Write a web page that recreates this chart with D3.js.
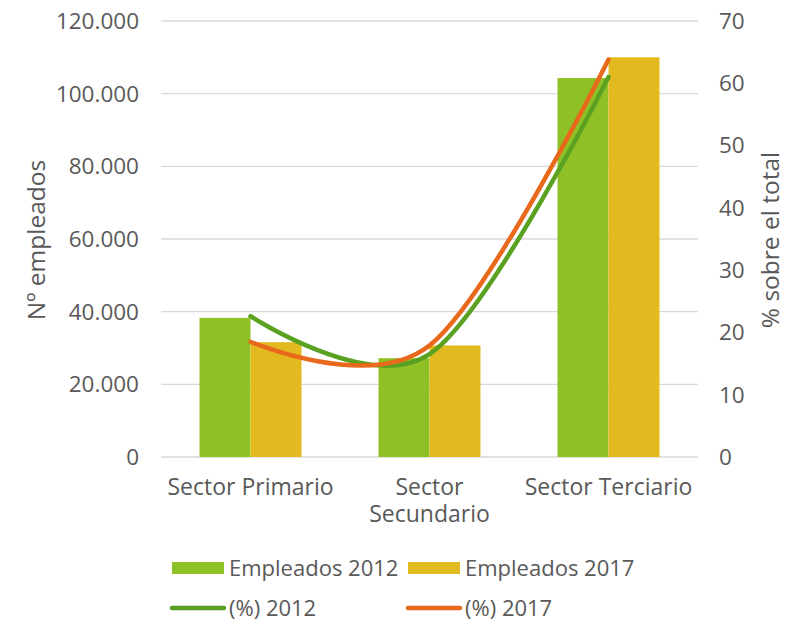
<!DOCTYPE html>
<html>
<head>
<meta charset="utf-8">
<script src="https://cdn.jsdelivr.net/npm/d3@7"></script>
<style>
  body { margin: 0; background: #fff; }
  text { font-family: "Open Sans", sans-serif; fill: #595959; }
</style>
</head>
<body>
<div id="chart"></div>
<script>
// data
var sectors = ["Sector Primario", "Sector Secundario", "Sector Terciario"]
var sectorLines = [["Sector Primario"], ["Sector", "Secundario"], ["Sector Terciario"]]
var empleados2012 = [38300, 27200, 104300]
var empleados2017 = [31600, 30700, 110000]
var pct2012 = [22.6, 16.5, 61.0]
var pct2017 = [18.5, 17.9, 63.8]
var leftTicks = [0, 20000, 40000, 60000, 80000, 100000, 120000]
var rightTicks = [0, 10, 20, 30, 40, 50, 60, 70]

var width = 787, height = 623
var margin = {top: 21, right: 89, bottom: 166, left: 161}

var svg = d3.select("#chart").append("svg")
    .attr("width", width)
    .attr("height", height)

var x = d3.scaleBand().domain(sectors)
    .range([margin.left, width - margin.right])
    .paddingInner(0).paddingOuter(0)

var y = d3.scaleLinear().domain([0, 120000]).range([height - margin.bottom, margin.top])
var y2 = d3.scaleLinear().domain([0, 70]).range([height - margin.bottom, margin.top])

var fmt = function(v) { return v == 0 ? "0" : d3.format(",")(v).replace(/,/g, ".") }

// gridlines
svg.append("g").selectAll("line")
    .data(leftTicks)
    .enter().append("line")
    .attr("x1", margin.left)
    .attr("x2", width - margin.right)
    .attr("y1", d => y(d))
    .attr("y2", d => y(d))
    .style("stroke", "#d9d9d9")
    .style("stroke-width", 1.3)

// left axis labels
svg.append("g").selectAll("text")
    .data(leftTicks)
    .enter().append("text")
    .attr("x", 139)
    .attr("y", d => y(d))
    .attr("dy", "0.35em")
    .attr("text-anchor", "end")
    .attr("font-size", "22.5px")
    .text(d => fmt(d))

// right axis labels
svg.append("g").selectAll("text")
    .data(rightTicks)
    .enter().append("text")
    .attr("x", 719)
    .attr("y", d => y2(d))
    .attr("dy", "0.35em")
    .attr("text-anchor", "start")
    .attr("font-size", "22.5px")
    .text(d => d)

// axis titles
svg.append("text")
    .attr("transform", "translate(45,240) rotate(-90)")
    .attr("text-anchor", "middle")
    .attr("font-size", "24.5px")
    .text("Nº empleados")

svg.append("text")
    .attr("transform", "translate(779,240) rotate(-90)")
    .attr("text-anchor", "middle")
    .attr("font-size", "24.5px")
    .text("% sobre el total")

// bars
var barW = 51
var green = "#8fc126", yellow = "#e3b920", lineGreen = "#5aa121", lineOrange = "#e8691c"

svg.append("g").selectAll("rect")
    .data(sectors)
    .enter().append("rect")
    .attr("x", d => x(d) + x.bandwidth() / 2 - barW)
    .attr("y", (d, i) => y(empleados2012[i]))
    .attr("width", barW)
    .attr("height", (d, i) => y(0) - y(empleados2012[i]))
    .style("fill", green)

svg.append("g").selectAll("rect")
    .data(sectors)
    .enter().append("rect")
    .attr("x", d => x(d) + x.bandwidth() / 2)
    .attr("y", (d, i) => y(empleados2017[i]))
    .attr("width", barW)
    .attr("height", (d, i) => y(0) - y(empleados2017[i]))
    .style("fill", yellow)

// smooth lines
var line = d3.line()
    .x((d, i) => x(sectors[i]) + x.bandwidth() / 2)
    .y(d => y2(d))
    .curve(d3.curveCatmullRom.alpha(0))

svg.append("path")
    .datum(pct2012)
    .attr("d", line)
    .style("fill", "none")
    .style("stroke", lineGreen)
    .style("stroke-width", 4.5)
    .style("stroke-linecap", "round")

svg.append("path")
    .datum(pct2017)
    .attr("d", line)
    .style("fill", "none")
    .style("stroke", lineOrange)
    .style("stroke-width", 4.5)
    .style("stroke-linecap", "round")

// category labels
var cat = svg.append("g").selectAll("text")
    .data(sectorLines)
    .enter().append("text")
    .attr("text-anchor", "middle")
    .attr("font-size", "23px")
    .attr("x", (d, i) => x(sectors[i]) + x.bandwidth() / 2)
    .attr("y", 495)

cat.selectAll("tspan")
    .data(d => d)
    .enter().append("tspan")
    .attr("x", function() { return d3.select(this.parentNode).attr("x") })
    .attr("dy", (d, i) => i == 0 ? 0 : 27)
    .text(d => d)

// legend
var legendItems = [
    {name: "Empleados 2012", color: green, type: "rect", x: 172, y: 568},
    {name: "Empleados 2017", color: yellow, type: "rect", x: 408, y: 568},
    {name: "(%) 2012", color: lineGreen, type: "line", x: 172, y: 608},
    {name: "(%) 2017", color: lineOrange, type: "line", x: 408, y: 608}
]

var lg = svg.append("g").selectAll("g")
    .data(legendItems)
    .enter().append("g")
    .attr("transform", d => "translate(" + d.x + "," + d.y + ")")

lg.filter(d => d.type == "rect").append("rect")
    .attr("x", 0).attr("y", -6)
    .attr("width", 52).attr("height", 12)
    .style("fill", d => d.color)

lg.filter(d => d.type == "line").append("line")
    .attr("x1", 0).attr("x2", 52)
    .attr("y1", 0).attr("y2", 0)
    .style("stroke", d => d.color)
    .style("stroke-width", 4.5)
    .style("stroke-linecap", "round")

lg.append("text")
    .attr("x", 57)
    .attr("y", 0)
    .attr("dy", "0.35em")
    .attr("font-size", "22px")
    .text(d => d.name)
</script>
</body>
</html>
